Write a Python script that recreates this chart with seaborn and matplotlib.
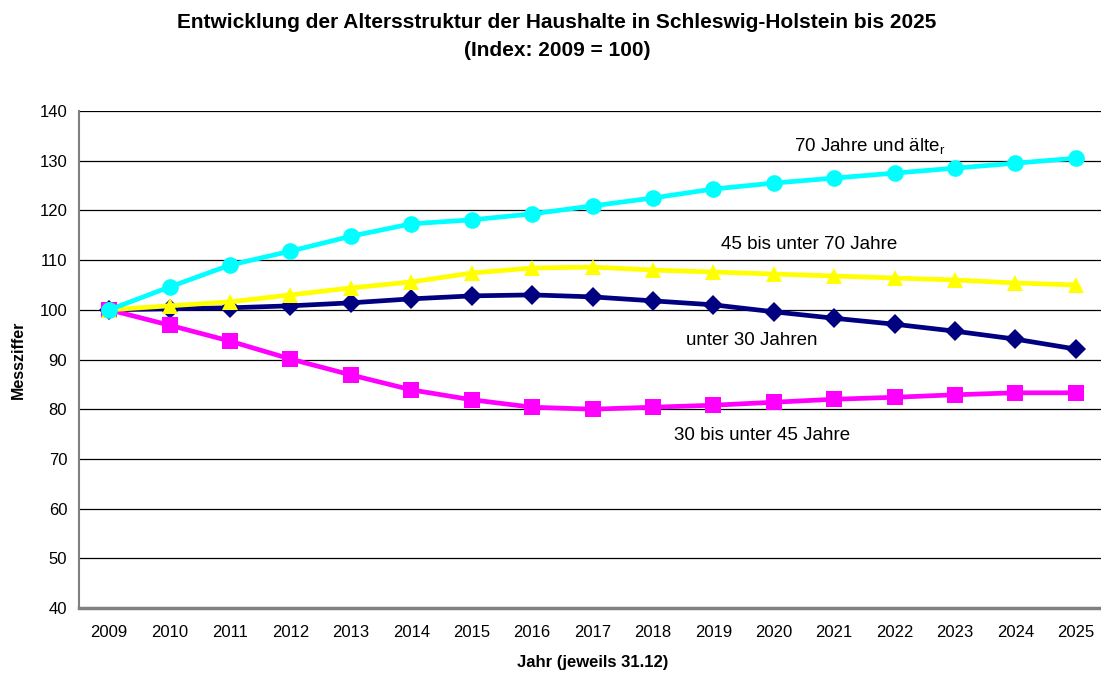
import numpy as np
import pandas as pd
import seaborn as sns
import matplotlib.pyplot as plt
from matplotlib.ticker import FixedLocator

jahre = [str(j) for j in range(2009, 2026)]

unter_30 = [100.0, 100.2, 100.4, 100.8, 101.4, 102.2, 102.8, 103.0, 102.6,
            101.8, 101.0, 99.6, 98.3, 97.1, 95.7, 94.1, 92.1]
von_30_45 = [100.0, 96.9, 93.7, 90.1, 86.9, 83.9, 81.9, 80.4, 80.0,
             80.4, 80.8, 81.4, 82.0, 82.4, 82.9, 83.3, 83.3]
von_45_70 = [100.0, 100.8, 101.6, 103.0, 104.4, 105.6, 107.4, 108.4, 108.6,
             108.0, 107.6, 107.2, 106.8, 106.4, 106.0, 105.4, 105.0]
ab_70 = [100.0, 104.6, 109.0, 111.8, 114.8, 117.3, 118.1, 119.3, 120.9,
         122.5, 124.3, 125.5, 126.5, 127.5, 128.5, 129.5, 130.5]

sns.set_style("white")
plt.rcParams['font.family'] = ['Liberation Sans', 'DejaVu Sans']
plt.rcParams['mathtext.fontset'] = 'custom'
plt.rcParams['mathtext.rm'] = 'Liberation Sans'
plt.rcParams['text.color'] = 'black'
plt.rcParams['axes.labelcolor'] = 'black'
plt.rcParams['xtick.color'] = 'black'
plt.rcParams['ytick.color'] = 'black'

fig = plt.figure(figsize=(11.01, 6.73), dpi=100)
ax = fig.add_axes([79 / 1101, (673 - 608) / 673, 1027 / 1101, 497 / 673])

idx = np.arange(len(jahre))

# Reihenfolge wie im Original: Türkis liegt oben
reihen = [
    (unter_30, "#000080", "D", 10, "unter 30 Jahren"),
    (von_30_45, "#FF00FF", "s", 11, "30 bis unter 45 Jahre"),
    (von_45_70, "#FFFF00", "^", 12, "45 bis unter 70 Jahre"),
    (ab_70, "#00FFFF", "o", 12, "70 Jahre und älter"),
]
for werte, farbe, marker, ms, name in reihen:
    df = pd.DataFrame({"idx": idx, "wert": werte})
    sns.lineplot(data=df, x="idx", y="wert", ax=ax, color=farbe, lw=3.4,
                 marker=marker, markersize=ms, markeredgecolor=farbe,
                 markeredgewidth=0, clip_on=False, zorder=3)

ax.set_ylim(40, 140)
ax.set_yticks(range(40, 141, 10))
ax.set_xlim(-0.5, 16.5)
ax.set_xticks(idx)
ax.set_xticklabels(jahre, fontsize=12)
ax.tick_params(axis='x', which='major', length=0, pad=12, labelcolor='black')
ax.xaxis.set_minor_locator(FixedLocator(np.arange(-0.5, 17, 1)))
ax.tick_params(axis='x', which='minor', length=6, width=1, color='#808080', direction='out')
ax.tick_params(axis='y', length=5, width=1, color='#808080', direction='out',
               labelsize=12, labelcolor='black')

ax.grid(axis='y', color='black', lw=0.9)
ax.set_axisbelow(True)
for s in ['top', 'right']:
    ax.spines[s].set_visible(False)
ax.spines['left'].set_color('#808080')
ax.spines['left'].set_linewidth(1.5)
ax.spines['bottom'].set_color('#808080')
ax.spines['bottom'].set_linewidth(2.5)
ax.spines['bottom'].set_zorder(4)

ax.set_xlabel("Jahr (jeweils 31.12)", fontsize=12, fontweight='bold', labelpad=11)
ax.set_ylabel("Messziffer", fontsize=11.5, fontweight='bold', labelpad=10)

ax.text(11.34, 132.7, "70 Jahre und älte$_{\\mathrm{r}}$", fontsize=13.5, va='center')
ax.text(10.13, 113.1, "45 bis unter 70 Jahre", fontsize=13.5, va='center')
ax.text(9.55, 93.8, "unter 30 Jahren", fontsize=13.5, va='center')
ax.text(9.35, 74.7, "30 bis unter 45 Jahre", fontsize=13.5, va='center')

fig.text(557 / 1101, 1 - 23 / 673,
         "Entwicklung der Altersstruktur der Haushalte in Schleswig-Holstein bis 2025",
         ha='center', va='center', fontsize=15, fontweight='bold')
fig.text(557 / 1101, 1 - 51 / 673, "(Index: 2009 = 100)",
         ha='center', va='center', fontsize=15, fontweight='bold')

fig.savefig("out.png", dpi=100)
